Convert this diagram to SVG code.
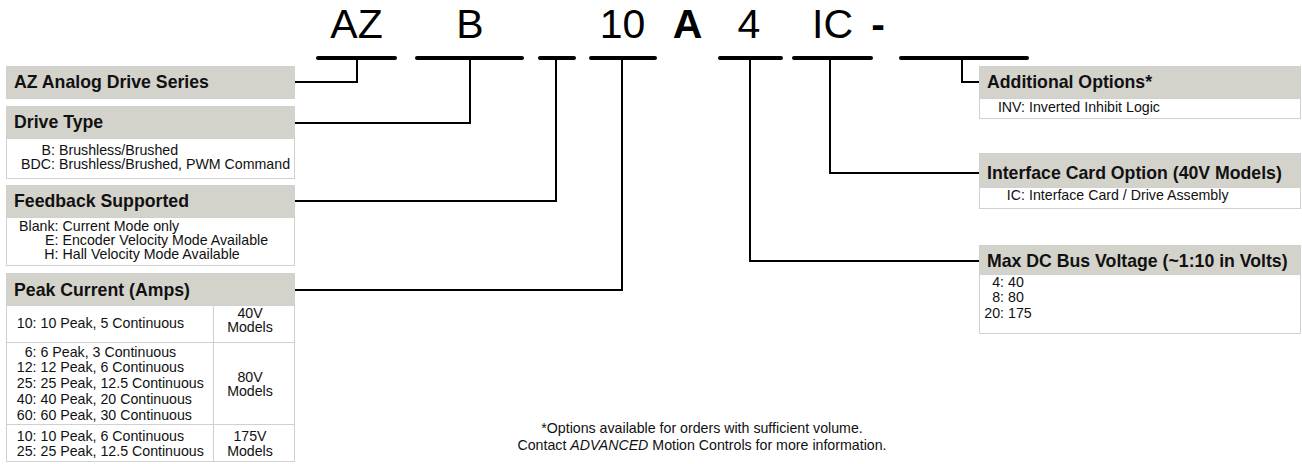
<svg xmlns="http://www.w3.org/2000/svg" width="1302" height="464" viewBox="0 0 1302 464">
<style>
.bg{fill:#ffffff}
.box{fill:#ffffff;stroke:#d0d0d0;stroke-width:1}
.hdr{fill:#d4d3cb;stroke:#d0d0d0;stroke-width:1}
.ht{font-family:"Liberation Sans",Arial,sans-serif;font-weight:bold;font-size:17.7px;fill:#111}
.bt{font-family:"Liberation Sans",Arial,sans-serif;font-size:14.2px;fill:#111}
.code{font-family:"Liberation Sans",Arial,sans-serif;font-size:41px;fill:#000;text-anchor:middle}
.ul{stroke:#000;stroke-width:4;stroke-linecap:round;fill:none}
.conn{stroke:#000;stroke-width:2;fill:none}
.grid{stroke:#d0d0d0;stroke-width:1;fill:none}
.e{text-anchor:end}
.m{text-anchor:middle}
</style>
<rect class="bg" x="0" y="0" width="1302" height="464"/>

<g id="code">
<text class="code" x="356.5" y="38">AZ</text>
<text class="code" x="470" y="38">B</text>
<text class="code" x="622.5" y="38">10</text>
<text class="code" x="687.5" y="38" font-weight="bold">A</text>
<text class="code" x="749" y="38">4</text>
<text class="code" x="832.5" y="38">IC</text>
<text class="code" x="878" y="38" font-weight="bold">-</text>
<line class="ul" x1="318" y1="58" x2="395" y2="58"/>
<line class="ul" x1="417" y1="58" x2="522" y2="58"/>
<line class="ul" x1="540" y1="58" x2="574" y2="58"/>
<line class="ul" x1="591" y1="58" x2="655" y2="58"/>
<line class="ul" x1="720" y1="58" x2="781" y2="58"/>
<line class="ul" x1="794" y1="58" x2="871" y2="58"/>
<line class="ul" x1="901" y1="58" x2="1027" y2="58"/>
</g>

<g id="connectors">
<polyline class="conn" points="294,82 357,82 357,58"/>
<polyline class="conn" points="294,123 470,123 470,58"/>
<polyline class="conn" points="294,201 556,201 556,58"/>
<polyline class="conn" points="294,290 622,290 622,58"/>
<polyline class="conn" points="979,261 750,261 750,58"/>
<polyline class="conn" points="979,173 830,173 830,58"/>
<polyline class="conn" points="979,82 962,82 962,58"/>
</g>

<g id="series">
<rect class="hdr" x="6.5" y="66.5" width="288" height="32"/>
<text class="ht" x="14" y="88">AZ Analog Drive Series</text>
</g>

<g id="drive-type">
<rect class="box" x="6.5" y="106.5" width="288" height="72"/>
<rect class="hdr" x="6.5" y="106.5" width="288" height="32"/>
<text class="ht" x="14" y="128">Drive Type</text>
<text class="bt e" x="55" y="155">B:</text>
<text class="bt" x="59" y="155">Brushless/Brushed</text>
<text class="bt e" x="55" y="169">BDC:</text>
<text class="bt" x="59" y="169">Brushless/Brushed, PWM Command</text>
</g>

<g id="feedback">
<rect class="box" x="6.5" y="185.5" width="288" height="80"/>
<rect class="hdr" x="6.5" y="185.5" width="288" height="32"/>
<text class="ht" x="14" y="207">Feedback Supported</text>
<text class="bt e" x="58.5" y="231">Blank:</text>
<text class="bt" x="62.5" y="231">Current Mode only</text>
<text class="bt e" x="58.5" y="245">E:</text>
<text class="bt" x="62.5" y="245">Encoder Velocity Mode Available</text>
<text class="bt e" x="58.5" y="259">H:</text>
<text class="bt" x="62.5" y="259">Hall Velocity Mode Available</text>
</g>

<g id="peak-current">
<rect class="box" x="6.5" y="273.5" width="288" height="188"/>
<rect class="hdr" x="6.5" y="273.5" width="288" height="32"/>
<text class="ht" x="14" y="296">Peak Current (Amps)</text>
<line class="grid" x1="6.5" y1="342.5" x2="294.5" y2="342.5"/>
<line class="grid" x1="6.5" y1="424.5" x2="294.5" y2="424.5"/>
<line class="grid" x1="213.5" y1="305.5" x2="213.5" y2="461.5"/>
<text class="bt e" x="36.5" y="328">10:</text>
<text class="bt" x="40.5" y="328">10 Peak, 5 Continuous</text>
<text class="bt m" x="250" y="318">40V</text>
<text class="bt m" x="250" y="332">Models</text>
<text class="bt e" x="36.5" y="357">6:</text>
<text class="bt" x="40.5" y="357">6 Peak, 3 Continuous</text>
<text class="bt e" x="36.5" y="372">12:</text>
<text class="bt" x="40.5" y="372">12 Peak, 6 Continuous</text>
<text class="bt e" x="36.5" y="388">25:</text>
<text class="bt" x="40.5" y="388">25 Peak, 12.5 Continuous</text>
<text class="bt e" x="36.5" y="404">40:</text>
<text class="bt" x="40.5" y="404">40 Peak, 20 Continuous</text>
<text class="bt e" x="36.5" y="420">60:</text>
<text class="bt" x="40.5" y="420">60 Peak, 30 Continuous</text>
<text class="bt m" x="250" y="382">80V</text>
<text class="bt m" x="250" y="396">Models</text>
<text class="bt e" x="36.5" y="441">10:</text>
<text class="bt" x="40.5" y="441">10 Peak, 6 Continuous</text>
<text class="bt e" x="36.5" y="456">25:</text>
<text class="bt" x="40.5" y="456">25 Peak, 12.5 Continuous</text>
<text class="bt m" x="250" y="441">175V</text>
<text class="bt m" x="250" y="456">Models</text>
</g>

<g id="additional-options">
<rect class="box" x="979.5" y="66.5" width="321" height="52"/>
<rect class="hdr" x="979.5" y="66.5" width="321" height="32"/>
<text class="ht" x="987" y="88">Additional Options*</text>
<text class="bt e" x="1025" y="112">INV:</text>
<text class="bt" x="1029" y="112">Inverted Inhibit Logic</text>
</g>

<g id="interface-card">
<rect class="box" x="979.5" y="153.5" width="321" height="55"/>
<rect class="hdr" x="979.5" y="153.5" width="321" height="34"/>
<text class="ht" x="987" y="179">Interface Card Option (40V Models)</text>
<text class="bt e" x="1025" y="200">IC:</text>
<text class="bt" x="1029" y="200">Interface Card / Drive Assembly</text>
</g>

<g id="bus-voltage">
<rect class="box" x="979.5" y="245.5" width="321" height="88"/>
<rect class="hdr" x="979.5" y="245.5" width="321" height="29"/>
<text class="ht" x="987" y="267">Max DC Bus Voltage (~1:10 in Volts)</text>
<text class="bt e" x="1004" y="287">4:</text>
<text class="bt" x="1008" y="287">40</text>
<text class="bt e" x="1004" y="302">8:</text>
<text class="bt" x="1008" y="302">80</text>
<text class="bt e" x="1004" y="318">20:</text>
<text class="bt" x="1008" y="318">175</text>
</g>

<g id="note">
<text class="bt m" x="702" y="433">*Options available for orders with sufficient volume.</text>
<text class="bt m" x="702" y="450">Contact <tspan font-style="italic">ADVANCED</tspan> Motion Controls for more information.</text>
</g>
</svg>
